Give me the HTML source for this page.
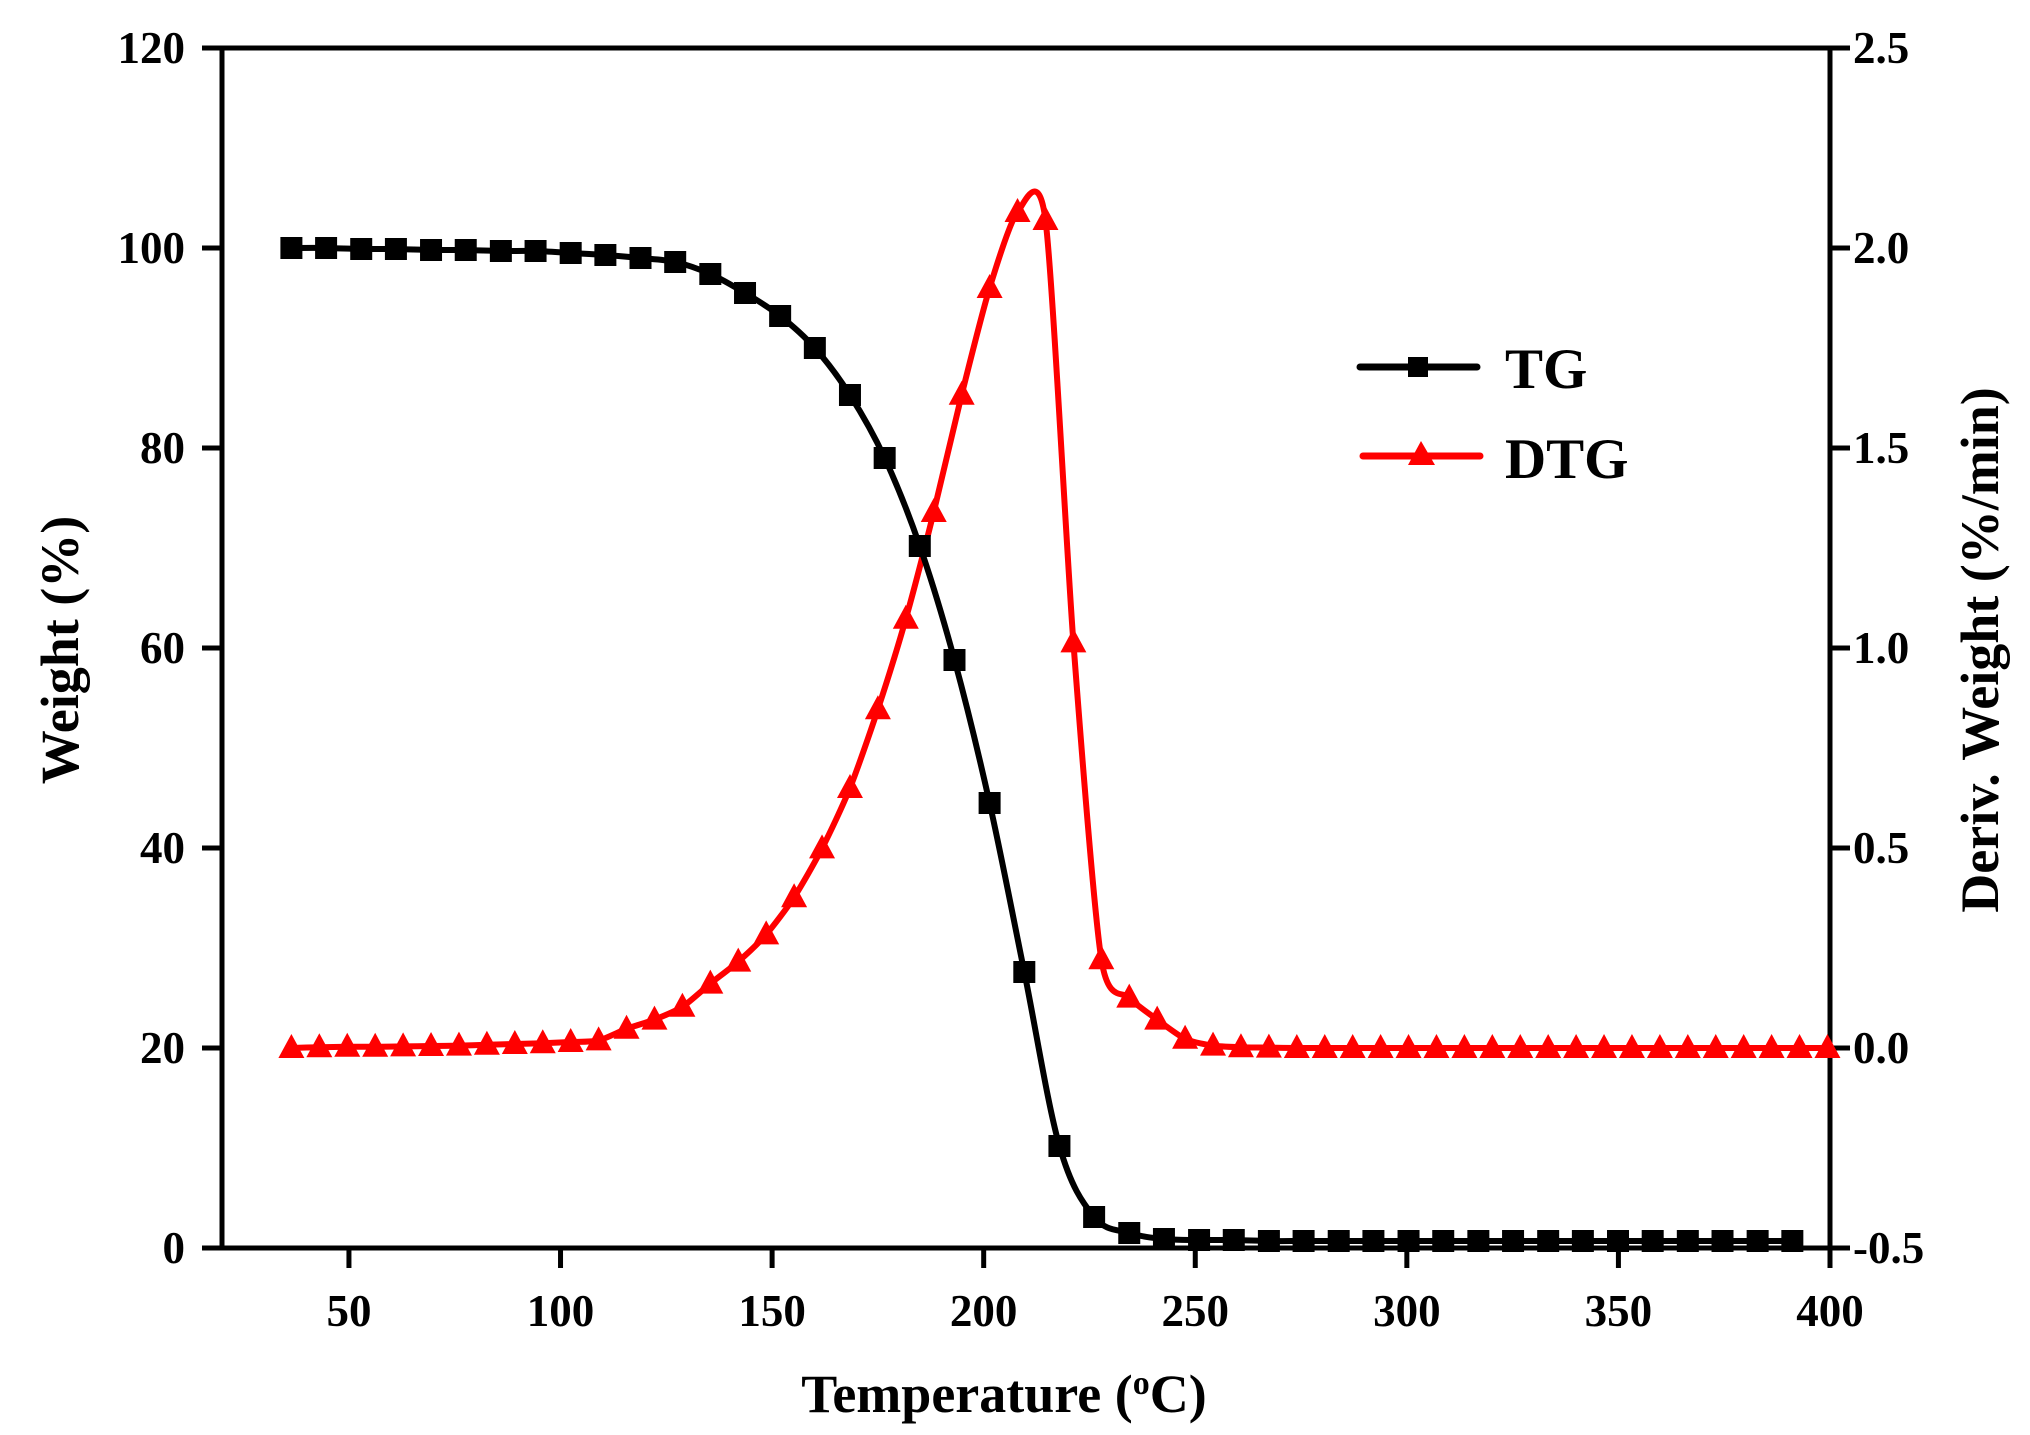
<!DOCTYPE html>
<html><head><meta charset="utf-8"><style>
html,body{margin:0;padding:0;background:#fff;}
svg text{font-family:"Liberation Serif",serif;font-weight:bold;fill:#000;}
</style></head><body>
<svg id="chart" width="2030" height="1430" viewBox="0 0 2030 1430" xmlns="http://www.w3.org/2000/svg">
<g id="axes"></g>
<g id="series"></g>
<g id="legend">
  <line x1="1360" y1="367" x2="1477" y2="367" stroke="#000" stroke-width="7" stroke-linecap="round"/>
  <rect x="1408" y="357" width="20" height="20" fill="#000"/>
  <text x="1505" y="388" font-size="57">TG</text>
  <line x1="1363" y1="456" x2="1480" y2="456" stroke="#f00" stroke-width="7" stroke-linecap="round"/>
  <polygon points="1421,441 1408,465 1435,465" fill="#f00"/>
  <text x="1505" y="478" font-size="57">DTG</text>
</g>
</svg>
<script>
const xTicks=[50,100,150,200,250,300,350,400];
const yLeftTicks=[0,20,40,60,80,100,120];
const yRightTicks=[-0.5,0.0,0.5,1.0,1.5,2.0,2.5];
const yRightLabels=["-0.5","0.0","0.5","1.0","1.5","2.0","2.5"];
const tgTemps=[36.4,44.6,52.9,61.1,69.4,77.6,85.9,94.1,102.4,110.6,118.9,127.1,135.4,143.6,151.9,160.1,168.4,176.6,184.9,193.1,201.4,209.6,217.9,226.1,234.4,242.6,250.9,259.1,267.4,275.6,283.9,292.1,300.4,308.6,316.9,325.1,333.4,341.6,349.9,358.1,366.4,374.6,382.9,391.1];
const tgValues=[100,100,99.9,99.9,99.8,99.8,99.7,99.7,99.5,99.3,99.0,98.6,97.4,95.5,93.2,90.0,85.3,79.0,70.2,58.8,44.5,27.6,10.2,3.1,1.5,0.9,0.8,0.8,0.7,0.7,0.7,0.7,0.7,0.7,0.7,0.7,0.7,0.7,0.7,0.7,0.7,0.7,0.7,0.7];
const dtgTemps=[36.4,43.0,49.6,56.2,62.8,69.4,76.0,82.6,89.2,95.8,102.4,109.0,115.6,122.2,128.8,135.4,142.0,148.6,155.2,161.8,168.4,175.0,181.6,188.2,194.8,201.4,208.0,214.6,221.2,227.8,234.4,241.0,247.6,254.2,260.8,267.4,274.0,280.6,287.2,293.8,300.4,307.0,313.6,320.2,326.8,333.4,340.0,346.6,353.2,359.8,366.4,373.0,379.6,386.2,392.8,399.4];
const dtgValues=[0,0.002,0.003,0.003,0.004,0.005,0.006,0.008,0.01,0.012,0.015,0.019,0.048,0.071,0.103,0.161,0.216,0.284,0.377,0.499,0.65,0.847,1.073,1.34,1.633,1.9,2.09,2.07,1.014,0.222,0.126,0.071,0.023,0.006,0.002,0.001,0,0,0,0,0,0,0,0,0,0,0,0,0,0,0,0,0,0,0,0];

const L=222,R=1830,T=48,B=1248;
const xS=v=>L+(v-20)/380*(R-L);
const yL=v=>B-v/120*(B-T);
const yR=v=>B-(v+0.5)/3*(B-T);
const NS="http://www.w3.org/2000/svg";
function mk(tag,attrs,parent){const e=document.createElementNS(NS,tag);for(const k in attrs)e.setAttribute(k,attrs[k]);parent.appendChild(e);return e;}
const ax=document.getElementById('axes'), se=document.getElementById('series');

const frame=mk('rect',{x:L,y:T,width:R-L,height:B-T,fill:'none',stroke:'#000','stroke-width':5},ax);



xTicks.forEach(v=>{
 const t=mk('line',{x1:xS(v),y1:B,x2:xS(v),y2:B+20,stroke:'#000','stroke-width':5},ax);
 
 
 const l=mk('text',{x:xS(v),y:B+78,'font-size':45,'text-anchor':'middle'},ax);l.textContent=v;
 
 
});
yLeftTicks.forEach(v=>{
 const t=mk('line',{x1:L-20,y1:yL(v),x2:L,y2:yL(v),stroke:'#000','stroke-width':5},ax);
 
 
 const l=mk('text',{x:185,y:yL(v)+15,'font-size':45,'text-anchor':'end'},ax);l.textContent=v;
 
 
});
yRightTicks.forEach((v,i)=>{
 const t=mk('line',{x1:R,y1:yR(v),x2:R+20,y2:yR(v),stroke:'#000','stroke-width':5},ax);
 
 
 const l=mk('text',{x:1853,y:yR(v)+15,'font-size':45,'text-anchor':'start'},ax);l.textContent=yRightLabels[i];
 
 
});
const xt=mk('text',{x:1004,y:1412,'font-size':54,'text-anchor':'middle'},ax);
xt.innerHTML='Temperature (<tspan dy="-18" font-size="34">o</tspan><tspan dy="18">C)</tspan>';


const yt=mk('text',{x:0,y:0,'font-size':54,'text-anchor':'middle',transform:'translate(78,650) rotate(-90)'},ax);
yt.textContent='Weight (%)';


const yt2=mk('text',{x:0,y:0,'font-size':54,'text-anchor':'middle',transform:'translate(1998,650) rotate(-90)'},ax);
yt2.textContent='Deriv. Weight (%/min)';



function spline(pts,k){
 let d='M'+pts[0][0]+','+pts[0][1];
 for(let i=0;i<pts.length-1;i++){
  const p0=pts[Math.max(0,i-1)],p1=pts[i],p2=pts[i+1],p3=pts[Math.min(pts.length-1,i+2)];
  const c1=[p1[0]+(p2[0]-p0[0])/k,p1[1]+(p2[1]-p0[1])/k],c2=[p2[0]-(p3[0]-p1[0])/k,p2[1]-(p3[1]-p1[1])/k];
  d+=' C'+c1.join(',')+' '+c2.join(',')+' '+p2.join(',');
 }
 return d;
}
const dtgPts=dtgTemps.map((t,i)=>[xS(t),yR(dtgValues[i])]);
const tgPts=tgTemps.map((t,i)=>[xS(t),yL(tgValues[i])]);
const dl=mk('path',{d:spline(dtgPts,8),fill:'none',stroke:'#f00','stroke-width':6,'stroke-linejoin':'round'},se);


dtgPts.forEach(p=>{
 const m=mk('polygon',{points:`${p[0]},${p[1]-14} ${p[0]-13},${p[1]+10} ${p[0]+13},${p[1]+10}`,fill:'#f00'},se);
 
 
});
const tl=mk('path',{d:spline(tgPts,6),fill:'none',stroke:'#000','stroke-width':6,'stroke-linejoin':'round'},se);


tgPts.forEach(p=>{
 const m=mk('rect',{x:p[0]-11,y:p[1]-11,width:22,height:22,fill:'#000'},se);
 
 
});
</script>
</body></html>
